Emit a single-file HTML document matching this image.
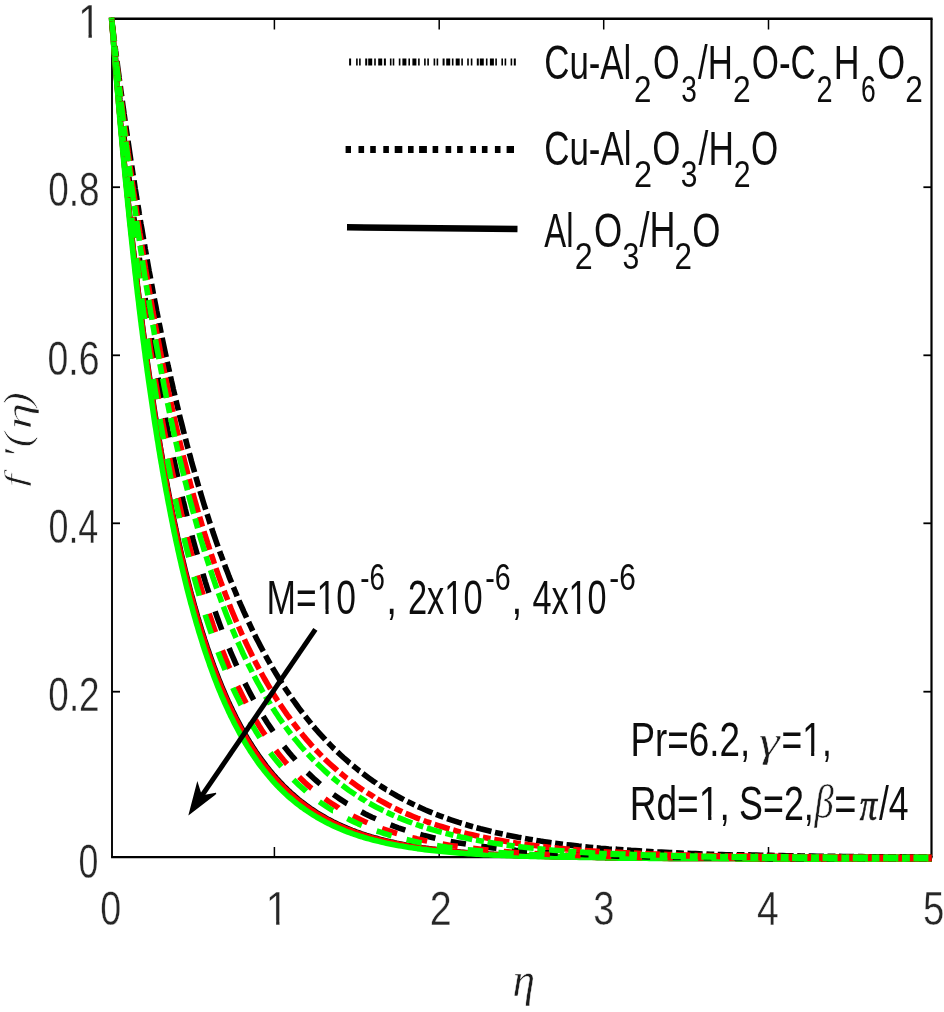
<!DOCTYPE html>
<html><head><meta charset="utf-8"><title>f'(eta) velocity profile</title>
<style>
html,body{margin:0;padding:0;background:#fff;}
body{width:944px;height:1012px;overflow:hidden;}
svg{display:block;}
text{font-family:"Liberation Sans",sans-serif;fill:#0d0d0d;font-kerning:none;}
text.t{fill:#262626;stroke:#fff;stroke-width:0.4;}
text.g{font-family:"Liberation Serif","DejaVu Serif",serif;font-style:italic;fill:#1a1a1a;stroke:#fff;stroke-width:0.5;}
text.g.r{stroke-width:0.9;}
text.g.p{stroke:#1a1a1a;stroke-width:0.7;}
#curves path{fill:none;stroke-linecap:butt;stroke-linejoin:round;}
</style></head><body>
<svg width="944" height="1012" viewBox="0 0 944 1012">
<defs>
<filter id="soft" x="-2%" y="-2%" width="104%" height="104%" filterUnits="objectBoundingBox"><feGaussianBlur stdDeviation="0.45"/></filter>
<clipPath id="c0"><path clip-rule="evenodd" d="M-20 -53.9H47.3V19.6H-20ZM2.39 -4.19H12.51V0.48H2.39ZM16.46 -4.19H26.32V0.48H16.46Z"/></clipPath>
<clipPath id="c1"><path clip-rule="evenodd" d="M-20 -53.9H47.3V19.6H-20ZM2.39 -4.19H12.51V0.48H2.39ZM16.46 -4.19H26.32V0.48H16.46Z"/></clipPath>
<clipPath id="c2"><path clip-rule="evenodd" d="M-20 -53.9H143.9V19.6H-20ZM71.83 -4.19H81.75V0.48H71.83ZM86.08 -4.19H95.75V0.48H86.08Z"/></clipPath>
<clipPath id="c3"><path clip-rule="evenodd" d="M-20 -53.9H126.3V19.6H-20ZM54.14 -4.19H64.07V0.48H54.14ZM68.40 -4.19H78.07V0.48H68.40Z"/></clipPath>
<clipPath id="c4"><path clip-rule="evenodd" d="M-20 -53.9H126.3V19.6H-20ZM54.14 -4.19H64.07V0.48H54.14ZM68.40 -4.19H78.07V0.48H68.40Z"/></clipPath>
<clipPath id="c5"><path clip-rule="evenodd" d="M-20 -53.9H89.5V19.6H-20ZM31.01 -4.19H40.94V0.48H31.01ZM45.27 -4.19H54.93V0.48H45.27Z"/></clipPath>
<clipPath id="c6"><path clip-rule="evenodd" d="M-20 -53.9H152.1V19.6H-20ZM93.65 -4.19H103.57V0.48H93.65ZM107.91 -4.19H117.57V0.48H107.91Z"/></clipPath>
</defs>
<rect width="944" height="1012" fill="#fff"/>
<g id="plot" filter="url(#soft)">
<g id="axes">
<path d="M111.05 18.8H932.6" stroke="#000" stroke-width="2.4"/>
<path d="M111.05 857.1H932.6" stroke="#000" stroke-width="2.4"/>
<path d="M112 18.8V857.1" stroke="#000" stroke-width="1.9"/>
<path d="M931.5 18.8V857.1" stroke="#000" stroke-width="2.2"/>
<line x1="274.4" y1="857.1" x2="274.4" y2="847" stroke="#000" stroke-width="1.5"/>
<line x1="274.4" y1="18.8" x2="274.4" y2="29.5" stroke="#000" stroke-width="1.5"/>
<line x1="439.2" y1="857.1" x2="439.2" y2="847" stroke="#000" stroke-width="1.5"/>
<line x1="439.2" y1="18.8" x2="439.2" y2="29.5" stroke="#000" stroke-width="1.5"/>
<line x1="603.7" y1="857.1" x2="603.7" y2="847" stroke="#000" stroke-width="1.5"/>
<line x1="603.7" y1="18.8" x2="603.7" y2="29.5" stroke="#000" stroke-width="1.5"/>
<line x1="768.5" y1="857.1" x2="768.5" y2="847" stroke="#000" stroke-width="1.5"/>
<line x1="768.5" y1="18.8" x2="768.5" y2="29.5" stroke="#000" stroke-width="1.5"/>
<line x1="112" y1="187.2" x2="120" y2="187.2" stroke="#000" stroke-width="1.8"/>
<line x1="931.4" y1="187.2" x2="923.4" y2="187.2" stroke="#000" stroke-width="1.8"/>
<line x1="112" y1="355.3" x2="120" y2="355.3" stroke="#000" stroke-width="1.8"/>
<line x1="931.4" y1="355.3" x2="923.4" y2="355.3" stroke="#000" stroke-width="1.8"/>
<line x1="112" y1="523.3" x2="120" y2="523.3" stroke="#000" stroke-width="1.8"/>
<line x1="931.4" y1="523.3" x2="923.4" y2="523.3" stroke="#000" stroke-width="1.8"/>
<line x1="112" y1="691.7" x2="120" y2="691.7" stroke="#000" stroke-width="1.8"/>
<line x1="931.4" y1="691.7" x2="923.4" y2="691.7" stroke="#000" stroke-width="1.8"/>
</g>
<g id="curves">
<path d="M111.5 17.6L111.7 19.8L111.9 22.3L112.1 24.8L112.3 27.5L112.5 30.0L112.7 32.6L112.9 35.3L113.2 37.9L113.4 40.5L113.6 43.2L113.8 45.8L114.0 48.5L114.2 51.1L114.5 53.7L114.7 56.4L114.9 58.9L115.1 61.5L115.3 64.1L115.6 66.8L115.8 69.6L116.0 72.4L116.3 74.9L116.5 77.5L116.7 80.1L116.9 82.8L117.2 85.4L117.4 88.2L117.7 90.9L117.9 93.8L118.1 96.6L118.4 99.1L118.6 101.6L118.8 104.2L119.1 106.8L119.3 109.4L119.5 112.1L119.8 114.7L120.0 117.4L120.3 120.1L120.5 122.8L120.8 125.6L121.0 128.4L121.3 131.2L121.5 134.0L121.8 136.8L122.1 139.7L122.3 142.5L122.6 145.4L122.9 147.9L123.1 150.4L123.3 152.9L123.6 155.5L123.8 158.0L124.1 160.5L124.3 163.1L124.6 165.7L124.8 168.3L125.1 170.8L125.3 173.4L125.6 176.1L125.9 178.7L126.1 181.3L126.4 184.0L126.7 186.6L126.9 189.3L127.2 191.9L127.5 194.6L127.7 197.3L128.0 200.0L128.3 202.7L128.6 205.4L128.9 208.1L129.1 210.8L129.4 213.5L129.7 216.3L130.0 219.0L130.3 221.7L130.6 224.5L130.9 227.2L131.2 230.0L131.5 232.7L131.8 235.5L132.1 238.3L132.4 241.0L132.7 243.8L133.0 246.6L133.3 249.4L133.6 252.2L134.0 255.0L134.3 257.8L134.6 260.6L134.9 263.3L135.2 266.1L135.6 268.9L135.9 271.8L136.2 274.6L136.5 277.4L136.9 280.2L137.2 283.0L137.5 285.8L137.9 288.6L138.2 291.4L138.6 294.2L138.9 297.0L139.2 299.8L139.6 302.6L139.9 305.5L140.3 308.3L140.6 311.1L141.0 313.9L141.3 316.7L141.7 319.5L142.1 322.3L142.4 325.1L142.8 327.9L143.1 330.7L143.5 333.5L143.9 336.3L144.2 339.1L144.6 341.8L145.0 344.6L145.3 347.4L145.7 350.2L146.1 353.0L146.5 355.7L146.9 358.5L147.2 361.3L147.6 364.0L148.0 366.8L148.4 369.5L148.8 372.3L149.2 375.0L149.6 377.8L150.0 380.5L150.4 383.2L150.8 386.0L151.2 388.7L151.6 391.4L152.0 394.1L152.4 396.8L152.8 399.5L153.2 402.2L153.6 404.9L154.0 407.6L154.4 410.2L154.8 412.9L155.2 415.6L155.7 418.2L156.1 420.9L156.5 423.5L156.9 426.2L157.3 428.8L157.8 431.4L158.2 434.0L158.6 436.7L159.0 439.3L159.5 441.9L159.9 444.5L160.3 447.0L160.8 449.6L161.2 452.2L161.7 454.7L162.1 457.3L162.5 459.8L163.0 462.4L163.4 464.9L163.9 467.4L164.3 470.0L164.8 472.5L165.2 475.0L165.7 477.5L166.1 479.9L166.6 482.4L167.1 484.9L167.5 487.3L168.1 490.2L168.6 493.0L169.1 495.9L169.7 498.7L170.2 501.5L170.8 504.3L171.3 507.1L171.9 509.9L172.4 512.6L173.0 515.4L173.6 518.1L174.1 520.8L174.7 523.5L175.3 526.2L175.8 528.9L176.4 531.6L177.0 534.3L177.5 536.9L178.1 539.5L178.7 542.2L179.3 544.8L179.9 547.4L180.4 549.9L181.0 552.5L181.6 555.1L182.2 557.6L182.8 560.1L183.4 562.7L184.0 565.2L184.6 567.7L185.2 570.1L185.8 572.6L186.4 575.0L187.0 577.5L187.7 580.2L188.4 583.0L189.1 585.7L189.8 588.4L190.5 591.1L191.2 593.8L192.0 596.5L192.7 599.1L193.4 601.7L194.1 604.3L194.8 606.9L195.6 609.5L196.3 612.1L197.0 614.6L197.7 617.1L198.5 619.6L199.2 622.1L200.0 624.6L200.7 627.0L201.4 629.4L202.2 631.8L202.9 634.2L203.8 636.9L204.6 639.6L205.5 642.2L206.4 644.8L207.2 647.4L208.1 649.9L209.0 652.5L209.8 655.0L210.7 657.5L211.6 659.9L212.5 662.4L213.3 664.8L214.2 667.2L215.1 669.6L216.0 671.9L216.9 674.3L217.9 676.8L218.9 679.4L219.9 681.9L220.9 684.4L221.9 686.8L223.0 689.3L224.0 691.7L225.0 694.1L226.0 696.4L227.1 698.8L228.1 701.1L229.2 703.4L230.3 705.8L231.5 708.3L232.6 710.7L233.8 713.1L235.0 715.5L236.1 717.8L237.3 720.1L238.5 722.4L239.7 724.6L240.9 726.8L242.2 729.2L243.5 731.5L244.8 733.8L246.1 736.1L247.4 738.4L248.8 740.6L250.1 742.8L251.5 744.9L252.8 747.0L254.3 749.3L255.7 751.5L257.2 753.7L258.7 755.8L260.2 757.9L261.7 760.0L263.2 762.0L264.7 764.0L266.3 766.2L268.0 768.3L269.6 770.3L271.3 772.3L272.9 774.3L274.6 776.2L276.3 778.1L278.0 779.9L279.8 781.9L281.6 783.8L283.4 785.7L285.3 787.5L287.1 789.3L289.0 791.0L290.8 792.8L292.7 794.4L294.7 796.2L296.7 797.9L298.7 799.6L300.7 801.2L302.8 802.8L304.8 804.3L306.9 805.9L308.9 807.3L311.0 808.8L313.1 810.2L315.2 811.6L317.4 813.0L319.7 814.4L321.9 815.7L324.2 817.0L326.4 818.3L328.7 819.6L331.0 820.8L333.3 822.0L335.6 823.1L337.9 824.2L340.3 825.3L342.6 826.4L344.9 827.4L347.3 828.4L349.7 829.3L352.0 830.3L354.4 831.2L356.8 832.1L359.2 832.9L361.7 833.8L364.1 834.6L366.5 835.4L369.0 836.1L371.4 836.9L373.9 837.6L376.4 838.3L378.8 839.0L381.3 839.6L383.8 840.3L386.4 840.9L388.9 841.5L391.4 842.1L394.0 842.6L396.5 843.2L399.1 843.7L401.6 844.2L404.2 844.7L406.8 845.2L409.4 845.6L412.0 846.1L414.6 846.5L417.1 846.9L419.6 847.3L422.1 847.7L424.6 848.0L427.1 848.4L429.6 848.7L432.1 849.1L434.6 849.4L437.2 849.7L439.7 850.0L442.3 850.3L444.8 850.6L447.4 850.8L450.0 851.1L452.5 851.3L455.1 851.6L457.7 851.8L460.4 852.1L463.0 852.3L465.6 852.5L468.2 852.7L470.9 852.9L473.5 853.1L476.2 853.3L478.7 853.5L481.2 853.6L483.7 853.8L486.2 853.9L488.7 854.1L491.3 854.2L493.8 854.4L496.4 854.5L498.9 854.6L501.5 854.8L504.1 854.9L506.6 855.0L509.2 855.1L511.8 855.2L514.4 855.4L517.0 855.5L519.6 855.6L522.2 855.7L524.9 855.8L527.5 855.8L530.1 855.9L532.8 856.0L535.4 856.1L538.1 856.2L540.8 856.3L543.4 856.3L545.9 856.4L548.4 856.5L550.9 856.5L553.5 856.6L556.0 856.6L558.5 856.7L561.1 856.8L563.6 856.8L566.1 856.9L568.7 856.9L571.3 857.0L573.8 857.0L576.4 857.1L579.0 857.1L581.6 857.1L584.1 857.2L586.7 857.2L589.3 857.3L591.9 857.3L594.6 857.3L597.2 857.4L599.8 857.4L602.4 857.4L605.1 857.5" stroke="#000" stroke-width="5.6"/>
<path d="M605.1 857.5L607.7 857.5L610.4 857.5L613.0 857.6L615.7 857.6L618.3 857.6L621.0 857.6L623.7 857.7L626.4 857.7L629.0 857.7L631.5 857.7L634.1 857.7L636.6 857.8L639.1 857.8L641.6 857.8L644.1 857.8L646.7 857.8L649.2 857.8L651.7 857.9L654.3 857.9L656.8 857.9L659.4 857.9L661.9 857.9L664.5 857.9L667.1 857.9L669.7 858.0L672.2 858.0L674.8 858.0L677.4 858.0L680.0 858.0L682.6 858.0L685.2 858.0L687.8 858.0L690.4 858.0L693.1 858.1L695.7 858.1L698.3 858.1L700.9 858.1L703.6 858.1L706.2 858.1L708.9 858.1L711.5 858.1L714.2 858.1L716.8 858.1L719.5 858.1L722.2 858.1L724.9 858.1L727.5 858.1L730.2 858.2L732.9 858.2L735.6 858.2" stroke="#000" stroke-width="6.3"/>
<path d="M735.6 858.2L738.3 858.2L741.0 858.2L743.5 858.2L746.0 858.2L748.5 858.2L751.1 858.2L753.6 858.2L756.1 858.2L758.6 858.2L761.2 858.2L763.7 858.2L766.2 858.2L768.8 858.2L771.3 858.2L773.9 858.2L776.4 858.2L779.0 858.2L781.5 858.2L784.1 858.2L786.7 858.2L789.3 858.2L791.8 858.2L794.4 858.2L797.0 858.2L799.6 858.2L802.2 858.2L804.8 858.2L807.4 858.3L810.0 858.3L812.6 858.3L815.2 858.3L817.9 858.3L820.5 858.3L823.1 858.3L825.7 858.3L828.4 858.3L831.0 858.3L833.7 858.3L836.3 858.3L839.0 858.3L841.6 858.3L844.3 858.3L846.9 858.3L849.6 858.3L852.3 858.3L855.0 858.3L857.6 858.3L860.3 858.3L863.0 858.3L865.7 858.3L868.4 858.3L871.1 858.3L873.8 858.3L876.5 858.3L879.2 858.3L881.9 858.3L884.6 858.3L887.4 858.3L890.1 858.3L892.6 858.3L895.1 858.3L897.6 858.3L900.1 858.3L902.6 858.3L905.2 858.3L907.7 858.3L910.2 858.3L912.7 858.3L915.3 858.3L917.8 858.3L920.3 858.3L922.9 858.3L925.4 858.3L928.0 858.3L930.5 858.3L931.7 858.3" stroke="#000" stroke-width="7.0"/>
<path d="M111.5 17.6L111.7 19.8L111.9 22.3L112.1 24.9L112.3 27.5L112.5 30.1L112.7 32.7L112.9 35.4L113.2 38.0L113.4 40.7L113.6 43.2L113.8 45.8L114.0 48.5L114.2 51.1L114.4 53.7L114.7 56.4L114.9 58.9L115.1 61.5L115.3 64.2L115.5 66.9L115.8 69.6L116.0 72.1L116.2 74.7L116.4 77.2L116.7 79.9L116.9 82.5L117.1 85.2L117.3 88.0L117.6 90.7L117.8 93.6L118.1 96.1L118.3 98.6L118.5 101.1L118.7 103.7L119.0 106.3L119.2 108.9L119.4 111.6L119.7 114.2L119.9 116.9L120.2 119.6L120.4 122.4L120.7 125.1L120.9 127.9L121.2 130.7L121.4 133.5L121.7 136.4L122.0 139.3L122.2 142.1L122.5 145.0L122.7 147.5L123.0 150.0L123.2 152.6L123.5 155.1L123.7 157.6L123.9 160.2L124.2 162.8L124.4 165.4L124.7 167.9L125.0 170.6L125.2 173.2L125.5 175.8L125.7 178.4L126.0 181.1L126.3 183.7L126.5 186.4L126.8 189.0L127.1 191.7L127.3 194.4L127.6 197.1L127.9 199.8L128.2 202.5L128.4 205.2L128.7 207.9L129.0 210.7L129.3 213.4L129.6 216.1L129.9 218.9L130.2 221.6L130.4 224.4L130.7 227.2L131.0 229.9L131.3 232.7L131.6 235.5L131.9 238.3L132.2 241.1L132.6 243.8L132.9 246.6L133.2 249.4L133.5 252.2L133.8 255.0L134.1 257.8L134.4 260.6L134.7 263.5L135.1 266.3L135.4 269.1L135.7 271.9L136.0 274.7L136.4 277.5L136.7 280.4L137.0 283.2L137.4 286.0L137.7 288.8L138.0 291.6L138.4 294.5L138.7 297.3L139.1 300.1L139.4 302.9L139.8 305.7L140.1 308.6L140.5 311.4L140.8 314.2L141.2 317.0L141.5 319.8L141.9 322.7L142.2 325.5L142.6 328.3L143.0 331.1L143.3 333.9L143.7 336.7L144.1 339.5L144.4 342.3L144.8 345.1L145.2 347.9L145.5 350.7L145.9 353.5L146.3 356.2L146.7 359.0L147.1 361.8L147.4 364.6L147.8 367.3L148.2 370.1L148.6 372.9L149.0 375.6L149.4 378.4L149.8 381.1L150.2 383.9L150.6 386.6L151.0 389.3L151.4 392.0L151.8 394.8L152.2 397.5L152.6 400.2L153.0 402.9L153.4 405.6L153.8 408.3L154.2 411.0L154.6 413.7L155.0 416.3L155.4 419.0L155.9 421.7L156.3 424.3L156.7 427.0L157.1 429.6L157.5 432.2L158.0 434.9L158.4 437.5L158.8 440.1L159.3 442.7L159.7 445.3L160.1 447.9L160.6 450.5L161.0 453.1L161.4 455.6L161.9 458.2L162.3 460.8L162.8 463.3L163.2 465.8L163.7 468.4L164.1 470.9L164.6 473.4L165.0 475.9L165.5 478.4L165.9 480.9L166.4 483.4L166.8 485.9L167.3 488.3L167.8 491.2L168.4 494.1L168.9 496.9L169.5 499.7L170.0 502.5L170.5 505.3L171.1 508.1L171.7 510.9L172.2 513.7L172.8 516.4L173.3 519.2L173.9 521.9L174.4 524.6L175.0 527.3L175.6 530.0L176.2 532.7L176.7 535.4L177.3 538.0L177.9 540.7L178.5 543.3L179.0 545.9L179.6 548.5L180.2 551.1L180.8 553.7L181.4 556.3L182.0 558.8L182.6 561.3L183.1 563.9L183.7 566.4L184.3 568.9L184.9 571.3L185.5 573.8L186.2 576.3L186.8 578.7L187.4 581.1L188.1 583.9L188.8 586.6L189.5 589.3L190.2 592.0L190.9 594.7L191.6 597.4L192.3 600.0L193.0 602.7L193.7 605.3L194.5 607.9L195.2 610.5L195.9 613.0L196.6 615.6L197.4 618.1L198.1 620.6L198.8 623.1L199.6 625.5L200.3 628.0L201.1 630.4L201.8 632.8L202.6 635.2L203.4 637.9L204.3 640.5L205.1 643.2L206.0 645.8L206.8 648.4L207.7 650.9L208.6 653.5L209.4 656.0L210.3 658.5L211.2 660.9L212.1 663.4L212.9 665.8L213.8 668.2L214.7 670.6L215.6 673.0L216.5 675.3L217.5 677.9L218.5 680.4L219.5 682.9L220.5 685.4L221.5 687.9L222.6 690.3L223.6 692.7L224.6 695.1L225.6 697.5L226.7 699.8L227.7 702.1L228.7 704.4L229.9 706.9L231.0 709.3L232.2 711.7L233.4 714.1L234.5 716.5L235.7 718.8L236.9 721.1L238.1 723.4L239.2 725.6L240.4 727.8L241.7 730.2L243.0 732.5L244.4 734.8L245.7 737.1L247.0 739.3L248.3 741.6L249.7 743.7L251.0 745.9L252.4 748.0L253.8 750.2L255.3 752.4L256.8 754.6L258.3 756.8L259.7 758.9L261.2 760.9L262.7 763.0L264.2 765.0L265.9 767.1L267.5 769.1L269.2 771.2L270.8 773.2L272.5 775.1L274.1 777.1L275.8 778.9L277.6 780.9L279.4 782.9L281.2 784.8L283.1 786.6L284.9 788.4L286.7 790.2L288.6 791.9L290.4 793.7L292.3 795.3L294.3 797.1L296.3 798.8L298.3 800.4L300.4 802.0L302.4 803.6L304.4 805.1L306.5 806.7L308.6 808.1L310.6 809.6L312.7 810.9L314.9 812.4L317.1 813.8L319.4 815.2L321.6 816.5L323.9 817.8L326.2 819.1L328.4 820.3L330.7 821.5L333.0 822.7L335.3 823.8L337.7 824.9L340.0 826.0L342.3 827.0L344.7 828.0L347.0 829.0L349.4 829.9L351.8 830.9L354.2 831.8L356.6 832.6L359.0 833.5L361.4 834.3L363.8 835.1L366.2 835.9L368.7 836.6L371.1 837.4L373.6 838.1L376.1 838.8L378.6 839.4L381.0 840.1L383.5 840.7L386.1 841.3L388.6 841.9L391.1 842.5L393.7 843.0L396.2 843.5L398.8 844.1L401.3 844.6L403.9 845.1L406.5 845.5L409.1 846.0L411.7 846.4L414.3 846.8L416.8 847.2L419.3 847.6L421.7 848.0L424.2 848.3L426.7 848.7L429.3 849.0L431.8 849.3L434.3 849.6L436.8 849.9L439.4 850.2L441.9 850.5L444.5 850.8L447.1 851.1L449.6 851.3L452.2 851.6L454.8 851.8L457.4 852.0L460.0 852.3L462.6 852.5L465.3 852.7L467.9 852.9L470.5 853.1L473.2 853.3L475.8 853.5L478.3 853.6L480.9 853.8L483.4 853.9L485.9 854.1L488.4 854.2L490.9 854.4L493.5 854.5L496.0 854.6L498.6 854.8L501.1 854.9L503.7 855.0L506.3 855.1L508.9 855.2L511.5 855.4L514.1 855.5L516.7 855.6L519.3 855.7L521.9 855.8L524.5 855.8L527.1 855.9L529.8 856.0L532.4 856.1L535.1 856.2L537.7 856.3L540.4 856.3L543.1 856.4L545.6 856.5L548.1 856.5L550.6 856.6L553.1 856.7L555.6 856.7L558.2 856.8L560.7 856.8L563.2 856.9L565.8 856.9L568.3 857.0L570.9 857.0L573.5 857.1L576.0 857.1L578.6 857.2L581.2 857.2L583.8 857.2L586.4 857.3L589.0 857.3L591.6 857.3L594.2 857.4L596.8 857.4L599.4 857.4L602.1 857.5L604.7 857.5" stroke="#ff0000" stroke-width="5.6"/>
<path d="M604.7 857.5L607.3 857.5L610.0 857.6L612.6 857.6L615.3 857.6L618.0 857.6L620.6 857.7L623.3 857.7L626.0 857.7L628.7 857.7L631.2 857.8L633.7 857.8L636.2 857.8L638.7 857.8L641.2 857.8L643.7 857.8L646.3 857.9L648.8 857.9L651.3 857.9L653.9 857.9L656.4 857.9L659.0 857.9L661.6 857.9L664.1 858.0L666.7 858.0L669.3 858.0L671.8 858.0L674.4 858.0L677.0 858.0L679.6 858.0L682.2 858.0L684.8 858.0L687.4 858.1L690.0 858.1L692.7 858.1L695.3 858.1L697.9 858.1L700.5 858.1L703.2 858.1L705.8 858.1L708.5 858.1L711.1 858.1L713.8 858.1L716.4 858.1L719.1 858.1L721.8 858.1L724.4 858.2L727.1 858.2L729.8 858.2L732.5 858.2L735.2 858.2" stroke="#ff0000" stroke-width="6.3"/>
<path d="M735.2 858.2L737.9 858.2L740.6 858.2L743.1 858.2L745.6 858.2L748.1 858.2L750.6 858.2L753.2 858.2L755.7 858.2L758.2 858.2L760.7 858.2L763.3 858.2L765.8 858.2L768.4 858.2L770.9 858.2L773.4 858.2L776.0 858.2L778.6 858.2L781.1 858.2L783.7 858.2L786.3 858.2L788.8 858.2L791.4 858.2L794.0 858.2L796.6 858.2L799.2 858.2L801.8 858.3L804.4 858.3L807.0 858.3L809.6 858.3L812.2 858.3L814.8 858.3L817.4 858.3L820.0 858.3L822.7 858.3L825.3 858.3L827.9 858.3L830.6 858.3L833.2 858.3L835.9 858.3L838.5 858.3L841.2 858.3L843.8 858.3L846.5 858.3L849.2 858.3L851.8 858.3L854.5 858.3L857.2 858.3L859.9 858.3L862.6 858.3L865.2 858.3L867.9 858.3L870.6 858.3L873.3 858.3L876.0 858.3L878.8 858.3L881.5 858.3L884.2 858.3L886.9 858.3L889.6 858.3L892.1 858.3L894.6 858.3L897.2 858.3L899.7 858.3L902.2 858.3L904.7 858.3L907.2 858.3L909.8 858.3L912.3 858.3L914.8 858.3L917.3 858.3L919.9 858.3L922.4 858.3L925.0 858.3L927.5 858.3L930.1 858.3L931.7 858.3" stroke="#ff0000" stroke-width="7.0"/>
<path d="M111.5 17.6L111.7 19.8L111.9 22.3L112.1 24.9L112.3 27.4L112.5 30.0L112.7 32.5L112.9 35.0L113.1 37.7L113.3 40.3L113.5 42.9L113.7 45.5L113.9 48.0L114.1 50.6L114.3 53.3L114.6 56.0L114.8 58.6L115.0 61.2L115.2 63.9L115.4 66.6L115.6 69.4L115.9 72.0L116.1 74.5L116.3 77.2L116.5 79.8L116.7 82.5L117.0 85.3L117.2 88.1L117.4 90.9L117.7 93.4L117.9 95.9L118.1 98.5L118.3 101.1L118.5 103.7L118.8 106.3L119.0 109.0L119.2 111.7L119.5 114.4L119.7 117.2L119.9 119.9L120.2 122.7L120.4 125.5L120.7 128.4L120.9 131.2L121.2 134.1L121.5 137.0L121.7 139.5L121.9 142.0L122.2 144.5L122.4 147.0L122.6 149.6L122.9 152.2L123.1 154.7L123.3 157.3L123.6 159.9L123.8 162.5L124.1 165.2L124.3 167.8L124.6 170.4L124.8 173.1L125.1 175.8L125.3 178.4L125.6 181.1L125.9 183.8L126.1 186.5L126.4 189.3L126.7 192.0L126.9 194.7L127.2 197.4L127.5 200.2L127.7 202.9L128.0 205.7L128.3 208.5L128.6 211.3L128.9 214.0L129.1 216.8L129.4 219.6L129.7 222.4L130.0 225.2L130.3 228.0L130.6 230.9L130.9 233.7L131.2 236.5L131.5 239.3L131.8 242.2L132.1 245.0L132.4 247.8L132.7 250.7L133.0 253.5L133.3 256.4L133.6 259.2L134.0 262.1L134.3 265.0L134.6 267.8L134.9 270.7L135.2 273.6L135.6 276.4L135.9 279.3L136.2 282.2L136.5 285.0L136.9 287.9L137.2 290.8L137.5 293.6L137.9 296.5L138.2 299.4L138.6 302.2L138.9 305.1L139.2 308.0L139.6 310.9L139.9 313.7L140.3 316.6L140.6 319.5L141.0 322.3L141.3 325.2L141.7 328.0L142.1 330.9L142.4 333.7L142.8 336.6L143.1 339.4L143.5 342.3L143.9 345.1L144.2 348.0L144.6 350.8L145.0 353.7L145.3 356.5L145.7 359.3L146.1 362.1L146.5 365.0L146.9 367.8L147.2 370.6L147.6 373.4L148.0 376.2L148.4 379.0L148.8 381.8L149.2 384.6L149.6 387.3L150.0 390.1L150.4 392.9L150.8 395.7L151.2 398.4L151.6 401.2L152.0 403.9L152.4 406.7L152.8 409.4L153.2 412.1L153.6 414.9L154.0 417.6L154.4 420.3L154.8 423.0L155.2 425.7L155.7 428.4L156.1 431.1L156.5 433.7L156.9 436.4L157.3 439.1L157.8 441.7L158.2 444.4L158.6 447.0L159.0 449.7L159.5 452.3L159.9 454.9L160.3 457.5L160.8 460.1L161.2 462.7L161.7 465.3L162.1 467.9L162.5 470.4L163.0 473.0L163.4 475.5L163.9 478.1L164.3 480.6L164.8 483.1L165.2 485.7L165.7 488.2L166.1 490.7L166.6 493.2L167.1 495.6L167.5 498.1L168.0 500.6L168.5 503.4L169.1 506.3L169.6 509.1L170.2 512.0L170.7 514.8L171.3 517.6L171.8 520.4L172.4 523.1L172.9 525.9L173.5 528.6L174.0 531.4L174.6 534.1L175.2 536.8L175.7 539.5L176.3 542.2L176.9 544.8L177.5 547.5L178.0 550.1L178.6 552.7L179.2 555.4L179.8 558.0L180.4 560.5L181.0 563.1L181.5 565.7L182.1 568.2L182.7 570.7L183.3 573.2L183.9 575.7L184.5 578.2L185.1 580.7L185.7 583.2L186.3 585.6L186.9 588.0L187.6 590.8L188.3 593.5L189.0 596.2L189.7 598.9L190.4 601.6L191.1 604.3L191.9 606.9L192.6 609.6L193.3 612.2L194.0 614.8L194.7 617.3L195.5 619.9L196.2 622.4L196.9 624.9L197.7 627.4L198.4 629.9L199.1 632.4L199.9 634.8L200.6 637.2L201.4 639.6L202.2 642.3L203.0 645.0L203.9 647.6L204.7 650.2L205.6 652.8L206.5 655.4L207.3 657.9L208.2 660.4L209.1 662.9L209.9 665.4L210.8 667.8L211.7 670.3L212.6 672.7L213.4 675.1L214.3 677.4L215.3 680.0L216.3 682.6L217.3 685.1L218.3 687.6L219.3 690.1L220.3 692.5L221.3 695.0L222.3 697.4L223.4 699.7L224.4 702.1L225.4 704.4L226.5 706.7L227.6 709.2L228.7 711.7L229.9 714.1L231.0 716.5L232.2 718.8L233.4 721.2L234.5 723.5L235.7 725.8L236.9 728.0L238.1 730.2L239.4 732.6L240.6 734.9L242.0 737.3L243.3 739.5L244.6 741.8L245.9 744.0L247.2 746.2L248.6 748.3L250.0 750.6L251.5 752.8L252.9 755.0L254.4 757.2L255.9 759.3L257.3 761.4L258.8 763.5L260.3 765.5L261.9 767.6L263.6 769.7L265.2 771.8L266.8 773.8L268.5 775.8L270.1 777.7L271.8 779.6L273.5 781.6L275.3 783.6L277.1 785.5L278.9 787.4L280.8 789.2L282.6 791.0L284.4 792.8L286.2 794.5L288.2 796.3L290.2 798.0L292.2 799.7L294.2 801.4L296.2 803.0L298.2 804.6L300.2 806.1L302.3 807.6L304.3 809.1L306.4 810.5L308.6 812.0L310.8 813.4L313.0 814.8L315.2 816.2L317.4 817.5L319.7 818.8L321.9 820.1L324.2 821.3L326.4 822.5L328.7 823.6L331.0 824.8L333.3 825.9L335.6 826.9L337.9 827.9L340.3 828.9L342.6 829.9L344.9 830.9L347.3 831.8L349.7 832.7L352.0 833.5L354.4 834.4L356.8 835.2L359.2 836.0L361.7 836.7L364.1 837.5L366.5 838.2L369.0 838.9L371.4 839.5L373.9 840.2L376.4 840.8L378.8 841.4L381.3 842.0L383.8 842.6L386.4 843.2L388.9 843.7L391.4 844.2L394.0 844.7L396.5 845.2L399.1 845.7L401.6 846.1L404.2 846.6L406.8 847.0L409.4 847.4L412.0 847.8L414.6 848.2L417.2 848.6L419.7 848.9L422.2 849.3L424.7 849.6L427.2 849.9L429.7 850.2L432.2 850.5L434.8 850.7L437.3 851.0L439.9 851.3L442.4 851.5L445.0 851.8L447.5 852.0L450.1 852.2L452.7 852.5L455.3 852.7L457.9 852.9L460.5 853.1L463.1 853.3L465.8 853.5L468.4 853.6L471.0 853.8L473.7 854.0L476.3 854.1L478.8 854.3L481.4 854.4L483.9 854.6L486.4 854.7L488.9 854.8L491.4 855.0L494.0 855.1L496.5 855.2L499.1 855.3L501.7 855.4L504.2 855.5L506.8 855.6L509.4 855.7L512.0 855.8L514.6 855.9L517.2 856.0L519.8 856.1L522.4 856.2L525.0 856.2L527.7 856.3L530.3 856.4L533.0 856.5L535.6 856.5L538.3 856.6L540.9 856.7L543.6 856.7L546.1 856.8L548.6 856.8L551.1 856.9L553.6 856.9L556.2 857.0L558.7 857.0L561.2 857.1L563.8 857.1L566.3 857.2L568.9 857.2L571.4 857.2L574.0 857.3L576.6 857.3L579.2 857.4L581.7 857.4L584.3 857.4L586.9 857.5L589.5 857.5L592.1 857.5L594.7 857.5L597.4 857.6L600.0 857.6L602.6 857.6L605.3 857.7" stroke="#00ff00" stroke-width="5.6"/>
<path d="M605.3 857.7L607.9 857.7L610.5 857.7L613.2 857.7L615.9 857.7L618.5 857.8L621.2 857.8L623.9 857.8L626.6 857.8L629.2 857.8L631.7 857.9L634.2 857.9L636.8 857.9L639.3 857.9L641.8 857.9L644.3 857.9L646.9 857.9L649.4 858.0L651.9 858.0L654.5 858.0L657.0 858.0L659.6 858.0L662.1 858.0L664.7 858.0L667.3 858.0L669.9 858.0L672.4 858.1L675.0 858.1L677.6 858.1L680.2 858.1L682.8 858.1L685.4 858.1L688.0 858.1L690.6 858.1L693.3 858.1L695.9 858.1L698.5 858.1L701.1 858.1L703.8 858.1L706.4 858.1L709.1 858.2L711.7 858.2L714.4 858.2L717.0 858.2L719.7 858.2L722.4 858.2L725.1 858.2L727.7 858.2L730.4 858.2L733.1 858.2L735.8 858.2" stroke="#00ff00" stroke-width="6.3"/>
<path d="M735.8 858.2L738.5 858.2L741.2 858.2L743.7 858.2L746.2 858.2L748.8 858.2L751.3 858.2L753.8 858.2L756.3 858.2L758.8 858.2L761.4 858.2L763.9 858.2L766.4 858.2L769.0 858.2L771.5 858.2L774.1 858.2L776.6 858.2L779.2 858.2L781.8 858.2L784.3 858.3L786.9 858.3L789.5 858.3L792.1 858.3L794.6 858.3L797.2 858.3L799.8 858.3L802.4 858.3L805.0 858.3L807.6 858.3L810.2 858.3L812.8 858.3L815.5 858.3L818.1 858.3L820.7 858.3L823.3 858.3L826.0 858.3L828.6 858.3L831.2 858.3L833.9 858.3L836.5 858.3L839.2 858.3L841.8 858.3L844.5 858.3L847.2 858.3L849.8 858.3L852.5 858.3L855.2 858.3L857.9 858.3L860.5 858.3L863.2 858.3L865.9 858.3L868.6 858.3L871.3 858.3L874.0 858.3L876.7 858.3L879.4 858.3L882.2 858.3L884.9 858.3L887.6 858.3L890.3 858.3L892.8 858.3L895.3 858.3L897.8 858.3L900.4 858.3L902.9 858.3L905.4 858.3L907.9 858.3L910.4 858.3L913.0 858.3L915.5 858.3L918.0 858.3L920.6 858.3L923.1 858.3L925.7 858.3L928.2 858.3L930.8 858.3L931.7 858.3" stroke="#00ff00" stroke-width="7.0"/>
<path d="M111.7 19.8L112.1 23.8L112.5 27.9L112.9 32.0L113.2 34.7M115.2 55.1L115.6 59.3L116.1 63.4L116.5 67.7L116.9 71.8L117.3 75.4M119.5 95.6L119.9 99.8L120.4 104.0L120.8 108.3L121.3 112.3L121.7 116.0M124.0 136.4L124.4 140.3L124.9 144.4L125.4 148.4L125.9 152.5L126.3 156.6M128.8 176.8L129.3 181.1L129.8 185.4L130.3 189.7L130.9 194.1L131.3 197.3M133.8 217.3L134.4 221.4L134.9 225.4L135.4 229.5L136.0 233.6L136.5 237.7M139.3 257.9L139.9 262.0L140.5 266.1L141.0 270.3L141.6 274.4L142.1 277.7M145.1 298.1L145.7 302.2L146.4 306.4L147.0 310.5L147.6 314.7L148.1 318.0M151.4 338.2L152.0 342.4L152.7 346.5L153.4 350.6L154.1 354.7L154.6 358.0M158.0 377.9L158.8 381.9L159.5 385.9L160.2 390.0L160.9 394.0L161.7 398.0M165.4 417.7L166.2 422.0L167.1 426.3L167.9 430.6L168.8 434.9L169.3 437.6M173.4 457.4L174.3 461.5L175.2 465.6L176.1 469.7L177.0 473.8L177.7 477.1M182.2 496.6L183.1 500.6L184.1 504.5L185.1 508.7L186.2 512.9L187.0 516.4M192.0 535.4L193.0 539.4L194.1 543.4L195.2 547.4L196.3 551.3L197.3 554.8M202.9 573.8L204.1 577.8L205.3 581.8L206.6 585.8L207.8 589.7L208.9 592.9M215.1 611.4L216.5 615.4L217.9 619.3L219.3 623.1L220.7 626.9L221.8 629.9M229.1 648.1L230.6 651.8L232.2 655.5L233.9 659.4L235.6 663.3L236.8 665.9M244.9 683.1L246.8 686.8L248.7 690.5L250.6 694.1L252.5 697.6L253.7 699.9M263.2 716.2L265.4 719.7L267.6 723.2L269.9 726.6L272.1 729.9L273.2 731.5M284.0 746.3L286.6 749.5L289.2 752.7L291.8 755.8L294.6 758.9L295.4 759.9M307.5 772.6L310.5 775.4L313.5 778.2L316.5 780.9L319.5 783.5L320.2 784.1M333.4 794.5L336.7 796.8L340.1 799.1L343.6 801.4L347.0 803.6L347.2 803.7M361.4 811.8L364.9 813.7L368.5 815.5L372.1 817.2L375.8 818.8M390.5 824.9L394.4 826.4L398.3 827.8L402.2 829.1L405.3 830.1M420.3 834.5L424.2 835.6L428.2 836.5L432.1 837.5L435.4 838.3M450.6 841.4L454.7 842.2L458.7 842.9L462.8 843.6L465.9 844.1M481.2 846.4L485.2 846.9L489.3 847.4L493.3 847.9L496.5 848.3M511.8 849.9L515.8 850.3L519.8 850.6L523.8 851.0L527.1 851.2M542.5 852.4L546.6 852.7L550.8 852.9L554.9 853.2L557.8 853.3M573.3 854.1L577.3 854.3L581.4 854.5L585.4 854.7L588.6 854.8" stroke="#000" stroke-width="5.6"/>
<path d="M603.9 855.4L608.1 855.5L612.2 855.6L616.4 855.8L619.3 855.8M634.6 856.2L638.7 856.3L642.8 856.4L646.9 856.5L650.2 856.6M665.5 856.8L669.7 856.9L673.8 857.0L678.0 857.0L680.8 857.1M696.3 857.3L700.3 857.3L704.4 857.4L708.5 857.4L711.5 857.4M726.9 857.6L731.1 857.6L735.2 857.6L739.4 857.7L742.3 857.7" stroke="#000" stroke-width="6.3"/>
<path d="M757.8 857.8L761.8 857.8L765.8 857.8L769.8 857.9L773.0 857.9M788.4 857.9L792.5 858.0L796.6 858.0L800.7 858.0L803.9 858.0M819.2 858.0L823.3 858.1L827.5 858.1L831.7 858.1L834.5 858.1M850.0 858.1L854.1 858.1L858.1 858.1L862.1 858.1L865.2 858.2M880.8 858.2L884.9 858.2L889.0 858.2L893.1 858.2L896.0 858.2M911.4 858.2L915.5 858.2L919.7 858.2L923.8 858.2L926.8 858.2" stroke="#000" stroke-width="7.0"/>
<path d="M111.7 19.8L112.1 23.8L112.4 27.9L112.8 32.0L113.1 34.8M115.0 55.2L115.4 59.3L115.8 63.3L116.2 67.4L116.6 71.7L117.0 75.5M119.0 95.8L119.4 99.8L119.8 103.8L120.2 108.0L120.7 112.1L121.1 116.0M123.2 136.4L123.7 140.6L124.1 144.8L124.6 149.0L125.0 153.2L125.4 156.7M127.7 177.0L128.2 181.0L128.6 185.1L129.1 189.2L129.6 193.3L130.1 197.4M132.4 217.4L133.0 221.7L133.5 225.9L134.0 230.1L134.5 234.4L135.0 237.8M137.5 257.9L138.1 262.2L138.7 266.5L139.2 270.8L139.8 275.1L140.2 278.1M143.0 298.4L143.6 302.8L144.2 307.1L144.9 311.4L145.5 315.7L145.9 318.3M148.9 338.5L149.5 342.8L150.2 347.1L150.8 351.3L151.5 355.6L152.0 358.6M155.2 378.9L155.9 383.1L156.6 387.3L157.3 391.4L158.0 395.6L158.6 398.9M162.1 418.7L162.8 422.7L163.6 426.8L164.3 430.8L165.1 434.9L165.8 438.5M169.6 458.3L170.5 462.6L171.3 466.8L172.2 471.1L173.1 475.3L173.7 478.4M178.0 497.9L178.9 502.0L179.8 506.1L180.7 510.1L181.6 514.1L182.4 517.3M187.2 537.1L188.2 541.3L189.3 545.4L190.4 549.5L191.4 553.6L192.1 556.3M197.5 575.6L198.7 579.8L199.9 583.9L201.1 588.0L202.3 592.0L203.1 594.8M209.1 613.6L210.5 617.7L211.9 621.7L213.2 625.7L214.6 629.6L215.5 632.1M222.3 650.4L223.9 654.3L225.4 658.1L227.0 661.9L228.5 665.6L229.8 668.5M237.6 685.9L239.5 689.8L241.3 693.5L243.2 697.2L245.0 700.9L246.2 703.2M255.4 719.6L257.6 723.2L259.7 726.8L261.9 730.3L264.1 733.6L265.2 735.2M275.8 750.2L278.3 753.5L280.9 756.7L283.4 759.8L286.1 763.0L287.1 764.1M299.1 776.9L302.0 779.7L304.9 782.5L308.0 785.3L311.1 788.0L311.8 788.5M325.0 798.8L328.3 801.2L331.7 803.5L335.1 805.7L338.5 807.8L338.7 808.0M352.9 815.9L356.6 817.8L360.2 819.5L363.9 821.2L367.4 822.8M382.1 828.6L385.9 829.9L389.8 831.2L393.7 832.5L397.1 833.5M412.2 837.7L416.2 838.6L420.2 839.6L424.2 840.5L427.2 841.1M442.6 844.0L446.6 844.7L450.6 845.4L454.7 846.0L457.7 846.4M473.0 848.4L477.0 848.9L481.0 849.4L485.0 849.8L488.4 850.1M503.7 851.5L507.8 851.8L512.0 852.2L516.1 852.5L519.1 852.7M534.4 853.6L538.4 853.9L542.5 854.1L546.6 854.3L549.9 854.4M565.2 855.1L569.2 855.2L573.3 855.4L577.3 855.5L580.6 855.6M595.9 856.1L600.0 856.2L604.1 856.3L608.3 856.4L611.3 856.5" stroke="#ff0000" stroke-width="5.6"/>
<path d="M626.7 856.8L630.8 856.9L634.8 856.9L638.9 857.0L642.0 857.0M657.4 857.3L661.6 857.3L665.7 857.4L669.9 857.4L672.8 857.4M688.2 857.6L692.2 857.6L696.3 857.7L700.3 857.7L703.6 857.7M718.9 857.8L723.0 857.8L727.1 857.9L731.3 857.9L734.4 857.9" stroke="#ff0000" stroke-width="6.3"/>
<path d="M749.6 858.0L753.8 858.0L758.0 858.0L762.0 858.0L765.0 858.0M780.5 858.1L784.5 858.1L788.6 858.1L792.7 858.1L795.7 858.1M811.1 858.1L815.2 858.1L819.4 858.2L823.5 858.2L826.6 858.2M841.8 858.2L846.0 858.2L850.0 858.2L854.1 858.2L857.4 858.2M872.7 858.2L876.7 858.2L880.8 858.2L884.9 858.2L888.0 858.2M903.3 858.2L907.5 858.3L911.6 858.3L915.7 858.3L918.7 858.3" stroke="#ff0000" stroke-width="7.0"/>
<path d="M111.7 19.8L112.1 23.9L112.4 27.9L112.8 32.0L113.0 34.7M114.9 55.2L115.2 59.4L115.6 63.5L116.0 67.8L116.4 71.9L116.7 75.5M118.7 96.1L119.1 100.2L119.5 104.3L119.9 108.5L120.3 112.8L120.7 116.1M122.7 136.7L123.2 141.0L123.6 145.3L124.1 149.6L124.5 154.0L124.8 156.8M127.0 177.2L127.5 181.3L127.9 185.5L128.4 189.7L128.9 193.9L129.2 197.3M131.6 217.9L132.1 222.2L132.6 226.6L133.1 230.9L133.6 235.3L134.0 237.9M136.4 258.2L136.9 262.1L137.4 266.1L137.9 270.1L138.4 274.1L139.0 278.1L139.0 278.5M141.6 298.5L142.2 302.5L142.7 306.5L143.3 310.5L143.8 314.5L144.4 318.5L144.4 318.9M147.2 338.8L147.8 342.7L148.5 347.1L149.1 351.5L149.8 355.9L150.2 359.0M153.3 379.0L154.0 383.3L154.7 387.6L155.4 391.9L156.1 396.1L156.6 399.1M159.9 419.0L160.6 423.2L161.4 427.3L162.1 431.5L162.8 435.6L163.5 439.3M167.1 458.8L167.9 462.8L168.7 466.8L169.5 470.8L170.2 474.8L171.0 478.7M175.2 498.8L176.1 503.0L177.0 507.1L177.9 511.2L178.8 515.3L179.4 518.3M184.0 537.9L184.9 541.8L186.0 546.1L187.0 550.3L188.1 554.4L188.8 557.2M193.9 576.7L195.0 580.6L196.1 584.5L197.2 588.4L198.4 592.5L199.3 595.7M205.1 614.7L206.4 618.6L207.6 622.4L209.0 626.5L210.3 630.5L211.4 633.6M218.0 652.0L219.5 656.0L221.0 659.9L222.6 663.8L224.1 667.5L225.1 670.1M232.8 687.8L234.5 691.5L236.3 695.3L238.2 699.1L240.0 702.8L241.2 705.1M250.1 721.7L252.1 725.2L254.3 728.7L256.4 732.3L258.6 735.7L259.9 737.7M270.3 752.8L272.8 756.1L275.3 759.3L277.9 762.4L280.5 765.6L281.5 766.7M293.4 779.7L296.3 782.5L299.3 785.4L302.4 788.1L305.5 790.8L306.1 791.4M319.3 801.7L322.6 804.0L325.9 806.2L329.4 808.5L332.9 810.7L333.0 810.7M347.3 818.6L350.9 820.4L354.6 822.1L358.2 823.8L361.8 825.3M376.7 831.0L380.5 832.2L384.3 833.5L388.1 834.7L391.6 835.7M406.6 839.6L410.6 840.5L414.6 841.4L418.6 842.3L421.7 842.9M437.0 845.6L441.0 846.2L445.0 846.8L449.0 847.4L452.4 847.8M467.7 849.7L471.9 850.1L475.8 850.5L479.8 850.9L483.0 851.2M498.4 852.5L502.5 852.8L506.6 853.1L510.8 853.3L513.7 853.5M529.1 854.4L533.1 854.6L537.2 854.7L541.3 854.9L544.5 855.1M559.8 855.6L564.0 855.8L568.0 855.9L572.0 856.0L575.1 856.1M590.5 856.5L594.6 856.6L598.7 856.7L602.8 856.8L606.0 856.8" stroke="#00ff00" stroke-width="5.6"/>
<path d="M621.4 857.1L625.4 857.1L629.4 857.2L633.5 857.3L636.8 857.3M652.1 857.5L656.2 857.5L660.4 857.6L664.5 857.6L667.5 857.6M682.8 857.7L686.8 857.8L690.8 857.8L694.9 857.8L698.1 857.8M713.6 857.9L717.7 857.9L721.8 858.0L725.9 858.0L729.0 858.0" stroke="#00ff00" stroke-width="6.3"/>
<path d="M744.4 858.0L748.5 858.1L752.7 858.1L756.9 858.1L759.7 858.1M775.1 858.1L779.2 858.1L783.3 858.1L787.3 858.2L790.3 858.2M805.9 858.2L810.0 858.2L814.1 858.2L818.3 858.2L821.1 858.2M836.5 858.2L840.7 858.2L844.9 858.2L849.2 858.2L851.8 858.2M867.3 858.2L871.3 858.3L875.4 858.3L879.4 858.3L882.6 858.3M898.1 858.3L902.2 858.3L906.3 858.3L910.4 858.3L913.4 858.3M928.9 858.3L931.7 858.3" stroke="#00ff00" stroke-width="7.0"/>
<path d="M111.9 21.4L112.4 25.4L112.9 29.4L113.4 33.5L113.9 37.5L114.4 41.4M115.0 46.2L115.5 50.3L116.1 54.4L116.4 56.7M117.0 61.2L117.5 65.3L118.0 69.3L118.6 73.4L119.1 77.6L119.6 81.1M120.3 86.1L120.8 90.0L121.4 94.1L121.7 96.3M122.3 101.0L122.9 105.3L123.5 109.3L124.0 113.4L124.6 117.5L125.1 121.1M125.8 125.9L126.4 129.9L127.0 133.9L127.3 136.1M128.0 140.8L128.6 144.9L129.2 149.1L129.8 153.3L130.4 157.5L130.9 160.8M131.7 165.7L132.3 169.7L132.9 173.7L133.2 175.7M134.0 180.4L134.6 184.5L135.2 188.6L135.9 192.7L136.5 196.8L137.1 200.2M137.9 205.1L138.6 209.2L139.2 213.4L139.5 215.2M140.3 220.1L141.0 224.3L141.8 228.5L142.5 232.8L143.2 237.0L143.6 239.5M144.5 244.5L145.2 248.8L146.0 253.0L146.3 254.8M147.1 259.5L147.8 263.4L148.5 267.4L149.2 271.3L150.0 275.2L150.6 278.8M151.6 283.9L152.3 287.8L153.0 291.8L153.4 293.9M154.3 298.6L155.1 302.6L155.9 306.5L156.6 310.5L157.4 314.4L158.1 318.0M159.1 323.0L159.9 326.9L160.7 330.9L161.1 333.0M162.1 337.7L162.9 341.6L163.8 345.8L164.7 350.1L165.6 354.4L166.2 357.2M167.2 361.8L168.1 366.0L169.1 370.2L169.5 372.0M170.5 376.5L171.4 380.7L172.4 384.9L173.3 389.1L174.3 393.2L174.9 395.7M176.0 400.5L177.0 404.6L178.0 408.7L178.4 410.4M179.4 414.9L180.4 418.9L181.5 423.0L182.5 427.0L183.5 431.1L184.3 434.1M185.5 438.7L186.5 442.7L187.5 446.7L188.1 448.6M189.3 453.2L190.4 457.1L191.4 461.0L192.5 464.9L193.6 468.8L194.6 472.3M195.8 476.8L197.0 480.9L198.2 485.0L198.7 486.6M200.0 490.9L201.2 495.0L202.4 499.0L203.6 503.0L204.8 506.9L205.7 509.7M207.1 514.2L208.4 518.1L209.6 522.0L210.2 523.7M211.7 528.2L212.9 532.0L214.3 536.0L215.7 540.1L217.1 544.1L218.0 546.6M219.6 551.2L221.0 555.1L222.5 559.0L223.1 560.6M224.6 564.8L226.0 568.6L227.5 572.3L228.9 576.1L230.5 580.1L231.6 582.7M233.4 587.2L235.0 591.0L236.6 594.9L237.1 596.2M238.9 600.5L240.5 604.2L242.2 607.9L243.8 611.6L245.6 615.5L246.6 617.7M248.6 622.0L250.3 625.7L252.1 629.5L252.8 630.9M254.7 634.8L256.5 638.4L258.4 642.0L260.3 645.7L262.3 649.5L263.3 651.4M265.5 655.5L267.5 659.1L269.5 662.6L270.2 663.9M272.4 667.6L274.5 671.2L276.7 674.8L278.8 678.3L281.0 681.8L282.0 683.4M284.4 687.2L286.6 690.5L289.0 694.0L289.6 694.9M291.9 698.4L294.3 701.7L296.7 705.0L299.1 708.3L301.5 711.5L302.5 712.8M305.2 716.3L307.8 719.5L310.4 722.7L311.0 723.5M313.6 726.6L316.2 729.7L319.0 732.8L321.8 735.9L324.6 738.9L325.2 739.6M328.2 742.7L331.0 745.6L333.8 748.5L334.4 749.0M337.4 751.9L340.4 754.7L343.4 757.5L346.5 760.2L349.5 762.9L349.8 763.1M353.0 765.8L356.3 768.4L359.5 771.0L359.7 771.1M362.8 773.5L366.1 776.0L369.4 778.4L372.7 780.8L376.1 783.0L376.2 783.1M379.6 785.4L383.0 787.5L386.4 789.7L386.7 789.8M389.9 791.8L393.5 793.9L397.1 796.0L400.7 797.9L403.9 799.6M407.4 801.5L411.1 803.3L414.6 805.0M418.0 806.6L421.7 808.3L425.5 810.0L429.3 811.6L432.4 812.9M436.0 814.3L439.9 815.8L443.5 817.2M447.1 818.5L450.9 819.8L454.8 821.1L458.7 822.4L461.7 823.3M465.4 824.5L469.4 825.7L473.0 826.7M476.5 827.7L480.5 828.8L484.5 829.8L488.6 830.8L491.4 831.5M495.0 832.4L498.9 833.3L502.7 834.1M506.3 834.9L510.3 835.7L514.2 836.5L518.2 837.3L521.4 837.8M525.0 838.5L529.1 839.2L532.8 839.8M536.3 840.4L540.4 841.1L544.5 841.7L548.6 842.3L551.5 842.7M555.1 843.2L559.1 843.7L562.9 844.2M566.5 844.7L570.5 845.1L574.6 845.6L578.6 846.1L581.6 846.4M585.3 846.8L589.3 847.2L593.1 847.6M596.6 847.9L600.7 848.3L604.9 848.6L609.0 849.0L611.9 849.2" stroke="#000" stroke-width="5.6"/>
<path d="M615.5 849.5L619.5 849.8L623.3 850.1M626.9 850.4L631.0 850.7L635.0 850.9L639.1 851.2L642.0 851.4M645.9 851.6L650.0 851.9L653.5 852.1M657.2 852.3L661.4 852.5L665.5 852.7L669.7 852.9L672.2 853.0M676.0 853.2L680.2 853.4L683.8 853.6M687.4 853.7L691.4 853.9L695.5 854.0L699.5 854.2L702.6 854.3M706.4 854.4L710.5 854.6L714.2 854.7M717.7 854.8L721.8 854.9L725.9 855.1L730.0 855.2L732.9 855.3" stroke="#000" stroke-width="6.3"/>
<path d="M736.7 855.4L740.8 855.5L744.4 855.6M748.1 855.6L752.3 855.7L756.5 855.8L760.5 855.9L763.3 856.0M766.9 856.1L770.9 856.1L774.7 856.2M778.3 856.3L782.4 856.3L786.5 856.4L790.6 856.5L793.6 856.5M797.2 856.6L801.3 856.7L805.0 856.7M808.7 856.8L812.8 856.8L817.0 856.9L821.1 856.9L823.8 857.0M827.5 857.0L831.7 857.0L835.4 857.1M839.0 857.1L843.2 857.2L847.4 857.2L851.4 857.3L854.1 857.3M857.9 857.3L861.9 857.3L865.7 857.4M869.3 857.4L873.3 857.4L877.4 857.5L881.5 857.5L884.4 857.5M888.0 857.5L892.1 857.6L896.0 857.6M899.7 857.6L903.8 857.6L907.9 857.7L912.0 857.7L914.8 857.7M918.5 857.7L922.7 857.7L926.4 857.8M929.8 857.8L931.7 857.8" stroke="#000" stroke-width="7.0"/>
<path d="M111.9 21.4L112.3 25.4L112.8 29.5L113.3 33.5L113.7 37.6L114.2 41.5M114.8 46.4L115.2 50.5L115.7 54.6L116.0 56.6M116.5 61.4L117.0 65.5L117.5 69.7L118.0 73.8L118.5 77.9L119.0 81.4M119.6 86.3L120.1 90.5L120.6 94.5L120.8 96.6M121.4 101.3L122.0 105.4L122.5 109.7L123.0 113.7L123.5 117.7L124.0 121.2M124.7 126.3L125.2 130.5L125.8 134.8L126.0 136.4M126.6 141.0L127.1 145.1L127.7 149.1L128.2 153.2L128.8 157.3L129.3 161.1M130.0 166.0L130.6 170.2L131.2 174.4L131.4 176.2M132.1 180.8L132.7 185.1L133.3 189.4L133.9 193.3L134.5 197.3L135.0 200.6M135.7 205.7L136.3 209.8L136.9 213.8L137.3 216.0M137.9 220.5L138.6 224.5L139.2 228.6L139.8 232.7L140.5 236.8L141.0 240.2M141.8 245.1L142.4 249.2L143.1 253.4L143.4 255.3M144.2 260.2L144.9 264.3L145.5 268.5L146.2 272.7L146.9 276.8L147.4 279.9M148.3 284.8L149.0 289.0L149.7 293.1L150.0 294.6M150.8 299.6L151.6 303.7L152.3 307.9L153.0 312.1L153.8 316.3L154.3 319.3M155.2 324.2L156.0 328.4L156.8 332.5L157.1 334.0M158.0 338.9L158.8 343.0L159.6 347.2L160.3 351.3L161.1 355.4L161.7 358.4M162.7 363.2L163.5 367.3L164.3 371.4L164.7 373.3M165.6 377.7L166.4 381.7L167.3 385.8L168.1 389.8L169.0 393.8L169.7 397.1M170.8 402.2L171.7 406.2L172.5 410.2L172.9 412.0M174.0 416.6L174.9 420.6L175.7 424.5L176.6 428.4L177.6 432.7L178.4 435.8M179.5 440.7L180.5 444.9L181.5 449.1L181.9 450.5M183.1 455.3L184.1 459.5L185.1 463.6L186.2 467.6L187.2 471.7L187.9 474.4M189.1 479.1L190.2 483.1L191.2 487.1L191.7 488.7M192.9 493.3L194.0 497.3L195.1 501.2L196.2 505.0L197.3 508.9L198.3 512.4M199.6 516.8L200.8 520.9L202.0 525.0L202.5 526.6M203.9 531.2L205.1 535.2L206.4 539.2L207.6 543.1L208.9 547.0L209.7 549.7M211.2 554.1L212.5 558.0L213.7 561.7L214.4 563.8M215.9 568.1L217.3 572.1L218.7 576.1L220.1 580.0L221.5 583.9L222.5 586.3M224.1 590.7L225.5 594.5L227.0 598.3L227.7 600.1M229.4 604.4L230.9 608.3L232.5 612.2L234.1 616.0L235.7 619.8L236.7 622.1M238.5 626.3L240.1 630.0L241.8 633.9L242.5 635.3M244.4 639.4L246.1 643.1L247.9 646.9L249.7 650.5L251.5 654.2L252.6 656.4M254.6 660.4L256.5 664.2L258.5 667.8L259.2 669.1M261.2 672.9L263.2 676.5L265.2 680.0L267.3 683.6L269.4 687.2L270.5 689.0M272.8 692.9L275.0 696.4L277.1 699.8L277.9 700.9M280.1 704.4L282.5 707.8L284.8 711.2L287.1 714.6L289.5 717.8L290.4 719.2M293.1 722.7L295.6 726.0L298.1 729.2L298.7 730.0M301.4 733.3L303.9 736.4L306.6 739.6L309.3 742.7L312.0 745.8L312.8 746.6M315.7 749.7L318.5 752.6L321.4 755.6L321.9 756.1M324.7 758.9L327.6 761.7L330.6 764.5L333.6 767.2L336.7 769.9L337.2 770.4M340.4 773.0L343.6 775.6L346.7 778.2L347.0 778.4M350.2 780.9L353.5 783.3L356.8 785.7L360.2 788.1L363.5 790.3M367.0 792.6L370.4 794.7L373.9 796.9L374.0 797.0M377.2 798.9L380.8 800.9L384.3 802.8L387.8 804.7L391.3 806.5M394.8 808.3L398.5 810.0L402.2 811.8M405.6 813.3L409.4 814.9L413.2 816.5L417.1 818.1L420.0 819.2M423.6 820.5L427.5 822.0L431.1 823.2M434.6 824.4L438.4 825.6L442.3 826.8L446.1 828.0L449.5 829.0M453.2 830.0L457.1 831.1L460.8 832.1M464.3 833.0L468.2 833.9L472.2 834.8L476.2 835.7L479.2 836.4M482.9 837.2L486.9 838.0L490.6 838.7M494.2 839.4L498.2 840.1L502.3 840.8L506.3 841.5L509.2 842.0M513.0 842.6L517.0 843.2L520.7 843.7M524.3 844.2L528.4 844.8L532.4 845.3L536.5 845.8L539.3 846.2M543.1 846.6L547.2 847.1L550.9 847.5M554.5 847.8L558.7 848.3L562.7 848.6L566.7 849.0L569.6 849.3M573.3 849.6L577.3 849.9L581.2 850.3M584.7 850.5L588.8 850.8L592.9 851.1L597.0 851.4L599.8 851.6M603.6 851.8L607.7 852.1L611.3 852.3" stroke="#ff0000" stroke-width="5.6"/>
<path d="M614.9 852.5L618.9 852.7L622.9 853.0L626.9 853.2L630.2 853.3M633.9 853.5L637.9 853.7L641.6 853.9M645.3 854.0L649.4 854.2L653.5 854.3L657.6 854.5L660.4 854.6M664.1 854.7L668.3 854.9L672.0 855.0M675.6 855.1L679.8 855.3L683.8 855.4L687.8 855.5L690.6 855.6M694.5 855.7L698.5 855.8L702.2 855.9M705.8 855.9L709.9 856.0L714.0 856.1L718.1 856.2L721.0 856.3M724.7 856.3L728.8 856.4L732.5 856.5" stroke="#ff0000" stroke-width="6.3"/>
<path d="M736.2 856.6L740.4 856.6L744.6 856.7L748.8 856.8L751.3 856.8M755.0 856.8L759.0 856.9L762.8 857.0M766.4 857.0L770.5 857.1L774.5 857.1L778.6 857.1L781.5 857.2M785.4 857.2L789.5 857.3L793.1 857.3M796.8 857.3L800.9 857.4L805.0 857.4L809.1 857.4L812.0 857.5M815.7 857.5L819.8 857.5L823.5 857.6M827.1 857.6L831.2 857.6L835.4 857.6L839.6 857.7L842.3 857.7M846.0 857.7L850.0 857.7L853.8 857.8M857.4 857.8L861.4 857.8L865.5 857.8L869.5 857.8L872.4 857.8M876.3 857.9L880.3 857.9L884.0 857.9M887.6 857.9L891.7 857.9L895.8 857.9L899.9 858.0L902.9 858.0M906.5 858.0L910.7 858.0L914.4 858.0M918.0 858.0L922.2 858.0L926.4 858.0L930.5 858.0L931.7 858.0" stroke="#ff0000" stroke-width="7.0"/>
<path d="M111.9 21.4L112.3 25.4L112.7 29.4L113.2 33.4L113.6 37.4L114.0 41.4M114.6 46.3L115.0 50.4L115.5 54.3L115.7 56.6M116.3 61.4L116.7 65.6L117.2 69.7L117.7 73.9L118.1 78.0L118.6 81.6M119.1 86.4L119.6 90.4L120.1 94.6L120.3 96.7M120.9 101.5L121.4 105.6L121.9 109.6L122.4 113.8L122.9 118.0L123.3 121.2M123.9 126.2L124.4 130.2L124.9 134.3L125.2 136.7M125.8 141.5L126.3 145.6L126.9 149.8L127.4 154.0L128.0 158.3L128.3 161.2M129.0 166.2L129.5 170.2L130.1 174.2L130.3 176.4M131.0 181.2L131.5 185.3L132.1 189.4L132.7 193.5L133.2 197.6L133.7 201.0M134.4 205.9L135.0 210.1L135.6 214.3L135.8 216.2M136.5 220.8L137.1 225.0L137.7 229.3L138.3 233.5L139.0 237.8L139.4 240.9M140.1 245.6L140.7 249.8L141.4 254.1L141.6 255.7M142.4 260.4L143.0 264.7L143.7 269.0L144.4 273.3L145.0 277.6L145.5 280.4M146.2 285.1L146.9 289.4L147.6 293.7L147.9 295.3M148.7 300.0L149.4 304.4L150.1 308.7L150.8 313.0L151.6 317.3L152.0 319.7M152.8 324.8L153.6 329.1L154.3 333.4L154.6 334.9M155.4 339.6L156.2 343.9L157.0 348.2L157.8 352.4L158.5 356.7L159.0 359.0M159.9 364.0L160.7 368.3L161.5 372.5L161.8 374.0M162.7 378.6L163.5 382.8L164.3 387.0L165.2 391.2L166.0 395.3L166.5 398.0M167.5 402.9L168.4 407.0L169.2 411.1L169.6 413.0M170.6 417.8L171.5 421.9L172.4 425.9L173.2 430.0L174.1 434.0L174.8 436.9M175.8 441.7L176.7 445.6L177.6 449.6L178.1 451.7M179.2 456.4L180.1 460.3L181.0 464.2L182.0 468.4L183.1 472.6L183.8 475.8M184.9 480.3L186.0 484.4L187.0 488.5L187.5 490.2M188.6 494.7L189.6 498.7L190.7 502.8L191.8 506.8L192.8 510.7L193.7 513.7M195.0 518.6L196.1 522.5L197.2 526.4L197.7 528.3M199.0 532.8L200.2 536.9L201.4 541.0L202.7 545.1L203.9 549.1L204.6 551.6M206.1 556.2L207.3 560.1L208.6 564.0L209.1 565.5M210.5 570.0L211.8 573.8L213.0 577.6L214.4 581.7L215.8 585.7L216.8 588.5M218.4 593.0L219.8 596.9L221.2 600.8L221.7 602.2M223.4 606.5L224.8 610.3L226.2 614.0L227.8 618.0L229.4 621.9L230.4 624.5M232.2 628.8L233.8 632.6L235.4 636.4L236.0 637.8M237.8 642.0L239.6 645.9L241.3 649.7L243.0 653.5L244.8 657.2L245.8 659.3M247.8 663.4L249.6 667.0L251.5 670.7L252.1 672.1M254.2 676.0L256.1 679.6L258.0 683.2L260.0 686.7L262.0 690.4L263.2 692.4M265.5 696.4L267.6 699.9L269.8 703.3L270.3 704.3M272.7 708.0L275.0 711.6L277.3 715.0L279.5 718.4L281.8 721.7L282.8 723.1M285.4 726.6L287.8 730.0L290.3 733.2L290.9 734.0M293.6 737.4L296.2 740.6L298.8 743.8L301.5 747.0L304.2 750.0L304.8 750.7M307.8 754.0L310.6 757.0L313.5 760.0L313.9 760.4M316.8 763.3L319.7 766.1L322.6 768.8L325.6 771.6L328.7 774.4L329.2 774.8M332.4 777.5L335.5 780.1L338.6 782.6L339.0 782.9M342.2 785.3L345.5 787.8L348.8 790.2L352.2 792.5L355.6 794.8M358.8 796.9L362.2 799.0L365.7 801.1L365.9 801.3M369.3 803.2L372.9 805.2L376.5 807.2L380.2 809.1L383.4 810.7M386.8 812.4L390.5 814.1L394.2 815.8M397.7 817.3L401.5 818.8L405.3 820.4L409.1 821.8L412.2 823.0M415.9 824.3L419.7 825.7L423.3 826.8M426.9 828.0L430.8 829.2L434.8 830.4L438.7 831.5L441.8 832.3M445.5 833.3L449.5 834.3L453.4 835.3M456.9 836.1L460.8 837.0L464.8 837.8L468.7 838.7L472.2 839.4M476.0 840.1L480.0 840.8L483.9 841.5M487.6 842.2L491.6 842.8L495.7 843.5L499.8 844.1L502.9 844.5M506.6 845.1L510.8 845.6L514.6 846.1M518.2 846.6L522.2 847.0L526.3 847.5L530.3 848.0L533.7 848.3M537.4 848.7L541.5 849.1L545.4 849.5M549.1 849.8L553.3 850.2L557.4 850.5L561.6 850.8L564.5 851.1M568.3 851.3L572.4 851.6L576.2 851.9M579.9 852.1L584.0 852.4L588.0 852.6L592.1 852.9L595.3 853.0M599.0 853.2L603.2 853.5L606.8 853.6" stroke="#00ff00" stroke-width="5.6"/>
<path d="M610.4 853.8L614.5 854.0L618.7 854.2L622.7 854.3L625.6 854.5M629.2 854.6L633.3 854.8L637.1 854.9M640.6 855.0L644.7 855.2L648.8 855.3L652.9 855.4L655.9 855.5M659.6 855.6L663.7 855.7L667.3 855.8M671.0 855.9L675.2 856.0L679.4 856.1L683.4 856.2L686.0 856.3M689.8 856.3L693.9 856.4L697.7 856.5M701.3 856.6L705.4 856.6L709.5 856.7L713.6 856.8L716.4 856.8M720.1 856.9L724.2 856.9L728.0 857.0M731.5 857.0L735.6 857.1L739.8 857.1L743.9 857.2L746.7 857.2" stroke="#00ff00" stroke-width="6.3"/>
<path d="M750.4 857.3L754.6 857.3L758.2 857.3M761.8 857.4L765.8 857.4L769.8 857.4L773.9 857.5L777.1 857.5M780.7 857.5L784.8 857.6L788.6 857.6M792.1 857.6L796.2 857.7L800.3 857.7L804.4 857.7L807.4 857.7M811.1 857.7L815.2 857.8L819.0 857.8M822.5 857.8L826.6 857.8L830.8 857.9L835.0 857.9L837.6 857.9M841.4 857.9L845.6 857.9L849.2 857.9M852.7 857.9L856.7 858.0L860.8 858.0L864.8 858.0L867.9 858.0M871.8 858.0L875.8 858.0L879.4 858.0M883.1 858.0L887.1 858.1L891.2 858.1L895.3 858.1L898.3 858.1M902.0 858.1L906.1 858.1L909.8 858.1M913.4 858.1L917.6 858.1L921.7 858.1L925.9 858.1L928.4 858.1" stroke="#00ff00" stroke-width="7.0"/>
</g>
<g id="legend">
<path d="M349.1 58.5h2.0v7h-2.0zM356.1 58.5h1.6v7h-1.6zM359.1 58.5h1.6v7h-1.6zM365.2 58.5h2.0v7h-2.0zM368.2 58.5h4.0v7h-4.0zM374.2 58.5h1.6v7h-1.6zM378.2 58.5h4.0v7h-4.0zM383.9 58.5h2.0v7h-2.0zM389.9 58.5h1.6v7h-1.6zM392.7 58.5h1.6v7h-1.6zM398.8 58.5h1.6v7h-1.6zM402.4 58.5h4.0v7h-4.0zM408.4 58.5h1.6v7h-1.6zM412.4 58.5h4.0v7h-4.0zM418.1 58.5h1.6v7h-1.6zM424.1 58.5h1.6v7h-1.6zM427.3 58.5h1.6v7h-1.6zM433.6 58.5h1.6v7h-1.6zM436.6 58.5h1.6v7h-1.6zM442.6 58.5h2.0v7h-2.0zM446.2 58.5h4.0v7h-4.0zM451.9 58.5h1.6v7h-1.6zM455.7 58.5h4.0v7h-4.0zM461.3 58.5h1.6v7h-1.6zM467.2 58.5h1.6v7h-1.6zM470.8 58.5h1.6v7h-1.6zM476.8 58.5h2.0v7h-2.0zM479.8 58.5h4.0v7h-4.0zM485.9 58.5h1.6v7h-1.6zM489.9 58.5h4.0v7h-4.0zM495.3 58.5h1.6v7h-1.6zM501.4 58.5h1.6v7h-1.6zM504.6 58.5h1.6v7h-1.6zM510.6 58.5h1.6v7h-1.6zM513.8 58.5h2.0v7h-2.0z" fill="#000"/>
<path d="M345.6 146h5.4v7h-5.4zM358.5 146h5.6v7h-5.6zM370.2 146h5.6v7h-5.6zM383.3 146h5.6v7h-5.6zM394.7 146h7.6v7h-7.6zM408.0 146h5.6v7h-5.6zM419.1 146h7.8v7h-7.8zM432.6 146h5.6v7h-5.6zM445.6 146h5.6v7h-5.6zM457.1 146h5.6v7h-5.6zM470.4 146h5.6v7h-5.6zM481.9 146h5.6v7h-5.6zM494.9 146h5.6v7h-5.6zM506.6 146h7.4v7h-7.4z" fill="#000"/>
<line x1="347" y1="227.3" x2="517.5" y2="229" stroke="#000" stroke-width="6.5"/>
</g>
<g id="arrow">
<line x1="315.4" y1="629.4" x2="199.8" y2="798.7" stroke="#000" stroke-width="5"/>
<path d="M189.6 813.6 L215.9 793.4 L201.4 796.3 L197.4 783.8 Z" fill="#000" stroke="#000" stroke-width="1.5" stroke-linejoin="miter"/>
</g>
<g id="labels">
<text class="t" transform="translate(100.23 924.70) scale(0.7685 1.0000)" font-size="49">0</text>
<text class="t" clip-path="url(#c0)" transform="translate(265.79 924.70) scale(0.8292 1.0000)" font-size="49">1</text>
<text class="t" transform="translate(429.71 924.70) scale(0.8064 1.0000)" font-size="49">2</text>
<text class="t" transform="translate(593.35 924.70) scale(0.7748 1.0000)" font-size="49">3</text>
<text class="t" transform="translate(756.90 924.70) scale(0.7978 1.0000)" font-size="49">4</text>
<text class="t" transform="translate(922.96 924.70) scale(0.7834 1.0000)" font-size="49">5</text>
<text class="t" clip-path="url(#c1)" transform="translate(78.05 38.00) scale(0.8376 1.0000)" font-size="49">1</text>
<text class="t" transform="translate(48.26 206.00) scale(0.7538 1.0000)" font-size="49">0.8</text>
<text class="t" transform="translate(47.44 374.50) scale(0.7650 1.0000)" font-size="49">0.6</text>
<text class="t" transform="translate(48.40 542.70) scale(0.7334 1.0000)" font-size="49">0.4</text>
<text class="t" transform="translate(48.36 710.70) scale(0.7531 1.0000)" font-size="49">0.2</text>
<text class="t" transform="translate(78.60 878.00) scale(0.7300 1.0000)" font-size="49">0</text>
<text transform="translate(544.23 79.00) scale(0.7109 1.0000)" font-size="49">Cu-Al</text>
<text transform="translate(634.12 101.50) scale(0.8484 1.0000)" font-size="37">2</text>
<text transform="translate(652.98 79.00) scale(0.6996 1.0000)" font-size="49">O</text>
<text transform="translate(681.33 101.50) scale(0.7582 1.0000)" font-size="37">3</text>
<text transform="translate(698.00 79.00) scale(0.7110 1.0000)" font-size="49">/H</text>
<text transform="translate(732.90 101.50) scale(0.8602 1.0000)" font-size="37">2</text>
<text transform="translate(751.74 79.00) scale(0.7135 1.0000)" font-size="49">O-C</text>
<text transform="translate(816.54 101.50) scale(0.7831 1.0000)" font-size="37">2</text>
<text transform="translate(833.86 79.00) scale(0.7307 1.0000)" font-size="49">H</text>
<text transform="translate(861.06 101.50) scale(0.7146 1.0000)" font-size="37">6</text>
<text transform="translate(877.30 79.00) scale(0.7325 1.0000)" font-size="49">O</text>
<text transform="translate(905.31 101.50) scale(0.8543 1.0000)" font-size="37">2</text>
<text transform="translate(544.23 165.00) scale(0.7126 1.0000)" font-size="49">Cu-Al</text>
<text transform="translate(634.07 186.50) scale(0.8780 1.0000)" font-size="37">2</text>
<text transform="translate(652.28 165.00) scale(0.7414 1.0000)" font-size="49">O</text>
<text transform="translate(680.86 186.50) scale(0.8095 1.0000)" font-size="37">3</text>
<text transform="translate(698.60 165.00) scale(0.7199 1.0000)" font-size="49">/H</text>
<text transform="translate(733.68 186.50) scale(0.8187 1.0000)" font-size="37">2</text>
<text transform="translate(750.94 165.00) scale(0.7145 1.0000)" font-size="49">O</text>
<text transform="translate(544.24 246.50) scale(0.6717 1.0000)" font-size="49">Al</text>
<text transform="translate(574.68 269.00) scale(0.8721 1.0000)" font-size="37">2</text>
<text transform="translate(593.88 246.50) scale(0.7414 1.0000)" font-size="49">O</text>
<text transform="translate(622.55 269.00) scale(0.8152 1.0000)" font-size="37">3</text>
<text transform="translate(639.60 246.50) scale(0.7355 1.0000)" font-size="49">/H</text>
<text transform="translate(674.42 269.00) scale(0.8484 1.0000)" font-size="37">2</text>
<text transform="translate(692.18 246.50) scale(0.7414 1.0000)" font-size="49">O</text>
<text clip-path="url(#c2)" transform="translate(266.50 613.60) scale(0.7220 1.0000)" font-size="49">M=10</text>
<text transform="translate(360.37 590.30) scale(0.7493 1.0000)" font-size="37">-6</text>
<text transform="translate(386.32 613.60) scale(0.7902 1.0000)" font-size="49">,</text>
<text clip-path="url(#c3)" transform="translate(407.97 613.60) scale(0.7028 1.0000)" font-size="49">2x10</text>
<text transform="translate(485.33 590.30) scale(0.7729 1.0000)" font-size="37">-6</text>
<text transform="translate(511.52 613.60) scale(0.7902 1.0000)" font-size="49">,</text>
<text clip-path="url(#c4)" transform="translate(532.41 613.60) scale(0.6985 1.0000)" font-size="49">4x10</text>
<text transform="translate(609.27 590.30) scale(0.8066 1.0000)" font-size="37">-6</text>
<text transform="translate(630.48 756.00) scale(0.7520 1.0000)" font-size="49">Pr=6.2,</text>
<text class="g" transform="translate(758.95 755.70) scale(1.0718 0.9204)" font-size="49">γ</text>
<text clip-path="url(#c5)" transform="translate(781.47 756.00) scale(0.7242 1.0000)" font-size="49">=1,</text>
<text clip-path="url(#c6)" transform="translate(629.66 819.60) scale(0.7575 1.0000)" font-size="49">Rd=1,</text>
<text transform="translate(739.07 819.60) scale(0.7317 1.0000)" font-size="49">S=2,</text>
<text class="g" transform="translate(814.42 818.33) scale(0.7842 0.9748)" font-size="49">β</text>
<text transform="translate(834.14 819.60) scale(0.7771 1.0000)" font-size="49">=</text>
<text class="g p" transform="translate(859.81 819.54) scale(0.7084 0.9578)" font-size="49">π</text>
<text transform="translate(879.00 819.60) scale(0.7253 1.0000)" font-size="49">/4</text>
<text class="g" transform="translate(512.38 996.06) scale(0.9256 0.9987)" font-size="49">η</text>
<text class="g r" transform="translate(24.62 486.71) rotate(-90) scale(0.9193 0.6120)" font-size="49">f</text>
<text class="g r" transform="translate(30.63 458.39) rotate(-90) scale(0.9005 0.8081)" font-size="49">′</text>
<text class="g r" transform="translate(30.28 447.35) rotate(-90) scale(0.9002 0.7878)" font-size="49">(</text>
<text class="g r" transform="translate(31.02 429.42) rotate(-90) scale(1.1009 0.7155)" font-size="49">η</text>
<text class="g r" transform="translate(30.28 406.91) rotate(-90) scale(0.8990 0.7878)" font-size="49">)</text>
</g>
</g>
</svg>
</body></html>
